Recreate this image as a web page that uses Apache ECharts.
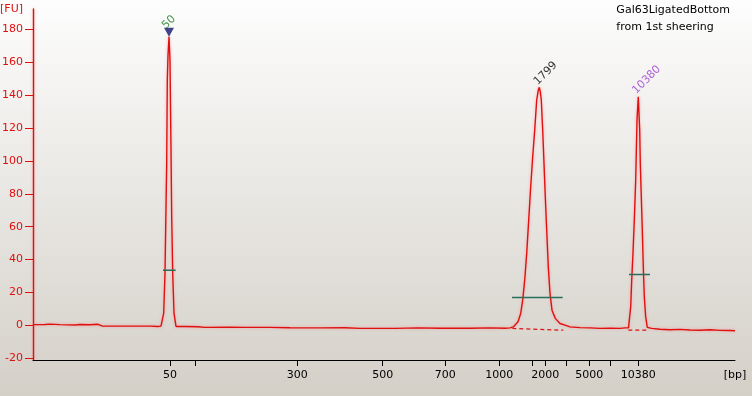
<!DOCTYPE html>
<html><head><meta charset="utf-8">
<script src="https://cdn.jsdelivr.net/npm/echarts@6/dist/echarts.min.js"></script>
<style>html,body{margin:0;padding:0;}#c{width:752px;height:396px;}</style>
</head><body><div id="c"></div>
<script>
// migration time (s) of each trace sample and fluorescence [FU]
const traceTime = [20.0,21.2,21.7,22.7,24.2,24.7,25.7,26.5,26.9,28.7,30.2,31.7,32.5,32.8,32.97,33.07,33.2,33.27,33.37,33.43,33.5,33.6,33.7,33.8,33.87,33.97,34.1,34.3,35.2,36.5,37.2,39.7,41.2,43.7,45.7,48.7,51.2,52.7,56.2,58.5,60.7,63.7,65.7,67.2,67.7,68.03,68.5,68.77,68.97,69.17,69.37,69.57,69.77,69.97,70.17,70.37,70.53,70.63,70.73,70.83,70.97,71.1,71.23,71.37,71.53,71.7,71.9,72.23,72.7,73.2,73.7,74.7,75.7,76.7,77.7,78.7,79.2,79.4,79.55,79.67,79.77,79.87,80.0,80.13,80.27,80.4,80.53,80.67,80.73,80.83,80.93,81.03,81.13,81.27,81.43,81.87,82.7,83.7,84.7,85.7,86.7,87.7,88.7,89.7,90.2];
const traceFU = [0.5,0.6,0.8,0.5,0.3,0.6,0.4,0.7,-0.3,-0.4,-0.4,-0.4,-0.6,-0.4,-0.4,7.5,31.8,59.8,98.7,149,164,175.4,161,106.6,65.8,31.8,7.5,-0.6,-0.6,-0.8,-1.2,-1.0,-1.2,-1.2,-1.4,-1.5,-1.4,-1.8,-1.8,-1.5,-1.7,-1.7,-1.5,-1.7,-1.5,-0.9,2.2,7.3,15.4,27.5,43.8,64,84.3,102.5,118.7,137,143,144.7,142,137,118.7,98.5,78,58,35.6,19.5,9.3,4.3,1.2,0.2,-0.85,-1.3,-1.5,-1.8,-1.7,-1.8,-1.5,-0.8,-1.5,-0.85,11.3,27.5,44,64,88.3,124.8,139,118.7,98.5,78,58,35.6,17.4,5.2,-1.2,-1.8,-2.3,-2.6,-2.4,-2.8,-2.9,-2.6,-3.0,-3.1,-3.2];

// x axis ticks (time position) and their bp labels
const xTickPos = [33.7,36.2,46.43,54.97,61.23,66.63,69.93,71.23,73.33,75.63,77.73,80.53];
const xTickLabels = ['50','','300','500','700','1000','','2000','','5000','','10380'];
const yTicks = [-20,0,20,40,60,80,100,120,140,160,180];

// peaks
const peakTime = [33.6,70.63,80.53];
const peakFU = [175.4,144.7,139];
const peakLabels = ['50','1799','10380'];

// region bars (green) and baselines (dashed)
const regionStart = [33.0,67.9,79.6];
const regionEnd = [34.27,72.97,81.7];
const regionFU = [33.6,17.0,31.0];
const baseStart = [67.93,79.53];
const baseStartFU = [-1.8,-2.9];
const baseEnd = [73.03,81.53];
const baseEndFU = [-2.9,-2.9];

const FONT = 'DejaVu Sans';
const RED = '#e01010';
const labelColors = ['#1a7a1a','#000000','#9a3ccc'];
const labelPos = [[-5,-9.5],[-3.5,-4],[-4,-4.5]];

const chart = echarts.init(document.getElementById('c'));
const labelledPos = xTickPos.filter((p,i)=>xTickLabels[i]!=='');
const series = [];
series.push({
  type:'line', data: traceTime.map((t,i)=>[t,traceFU[i]]), symbol:'none', z:3,
  lineStyle:{color:RED,width:1.4,shadowColor:'rgba(255,110,110,0.55)',shadowBlur:3},
  animation:false
});
for (let i=0;i<regionStart.length;i++){
  series.push({type:'line',symbol:'none',z:4,animation:false,
    data:[[regionStart[i],regionFU[i]],[regionEnd[i],regionFU[i]]],
    lineStyle:{color:'#2b6e5c',width:1.5}});
}
for (let i=0;i<baseStart.length;i++){
  series.push({type:'line',symbol:'none',z:2,animation:false,
    data:[[baseStart[i],baseStartFU[i]],[baseEnd[i],baseEndFU[i]]],
    lineStyle:{color:RED,width:1.2,type:[4,3]}});
}
series.push({type:'scatter',z:5,animation:false,
  data:[[peakTime[0],peakFU[0]]],
  symbol:'path://M0,0 L10,0 L5,9 Z', symbolSize:[10,9], symbolOffset:[0,'-50%'],
  itemStyle:{color:'#14146e'}});
series.push({type:'scatter',z:6,animation:false,symbolSize:0.1,
  itemStyle:{color:'transparent'},
  data: peakTime.map((t,i)=>({value:[t,peakFU[i]],
    label:{show:true,formatter:peakLabels[i],color:labelColors[i],position:labelPos[i]}})),
  label:{show:true,rotate:45,align:'left',verticalAlign:'middle',fontFamily:FONT,fontSize:11}
});

chart.setOption({
  animation:false,
  backgroundColor: new echarts.graphic.LinearGradient(0,0,0,1,[{offset:0,color:'#fdfdfd'},{offset:1,color:'#d4d0c8'}]),
  textStyle:{fontFamily:FONT},
  graphic:[{type:'text',right:22,top:2,style:{text:'Gal63LigatedBottom\nfrom 1st sheering',align:'right',fontFamily:FONT,fontSize:11,lineHeight:17,fill:'#000'}}],
  grid:{left:33,right:17,top:9,bottom:36,containLabel:false,outerBoundsMode:'none'},
  xAxis:{type:'value',min:20,max:90.2,
    name:'[bp]',nameLocation:'end',nameGap:0,
    nameTextStyle:{color:'#000',fontSize:11,fontFamily:FONT,align:'center',verticalAlign:'top',padding:[10,0,0,0]},
    axisLine:{onZero:false,lineStyle:{color:'#000',width:1}},
    axisTick:{customValues:xTickPos,length:6,lineStyle:{color:'#000'}},
    axisLabel:{customValues:labelledPos,color:'#000',fontSize:11,fontFamily:FONT,margin:10,
      formatter:(v)=>{let b=0,d=1e9;xTickPos.forEach((p,i)=>{if(Math.abs(p-v)<d){d=Math.abs(p-v);b=i;}});return xTickLabels[b];}},
    splitLine:{show:false}},
  yAxis:{type:'value',min:-21,max:192.3,
    name:'[FU]',nameLocation:'end',nameGap:0,
    nameTextStyle:{color:RED,fontSize:11,fontFamily:FONT,align:'right',verticalAlign:'middle',padding:[0,10,0,0]},
    axisLine:{show:true,onZero:false,lineStyle:{color:RED,width:1.4,shadowColor:'rgba(255,110,110,0.55)',shadowBlur:3}},
    axisTick:{show:true,customValues:yTicks,length:8,lineStyle:{color:RED}},
    axisLabel:{customValues:yTicks,color:RED,fontSize:11,fontFamily:FONT,margin:10},
    splitLine:{show:false}},
  series: series
});
</script></body></html>
